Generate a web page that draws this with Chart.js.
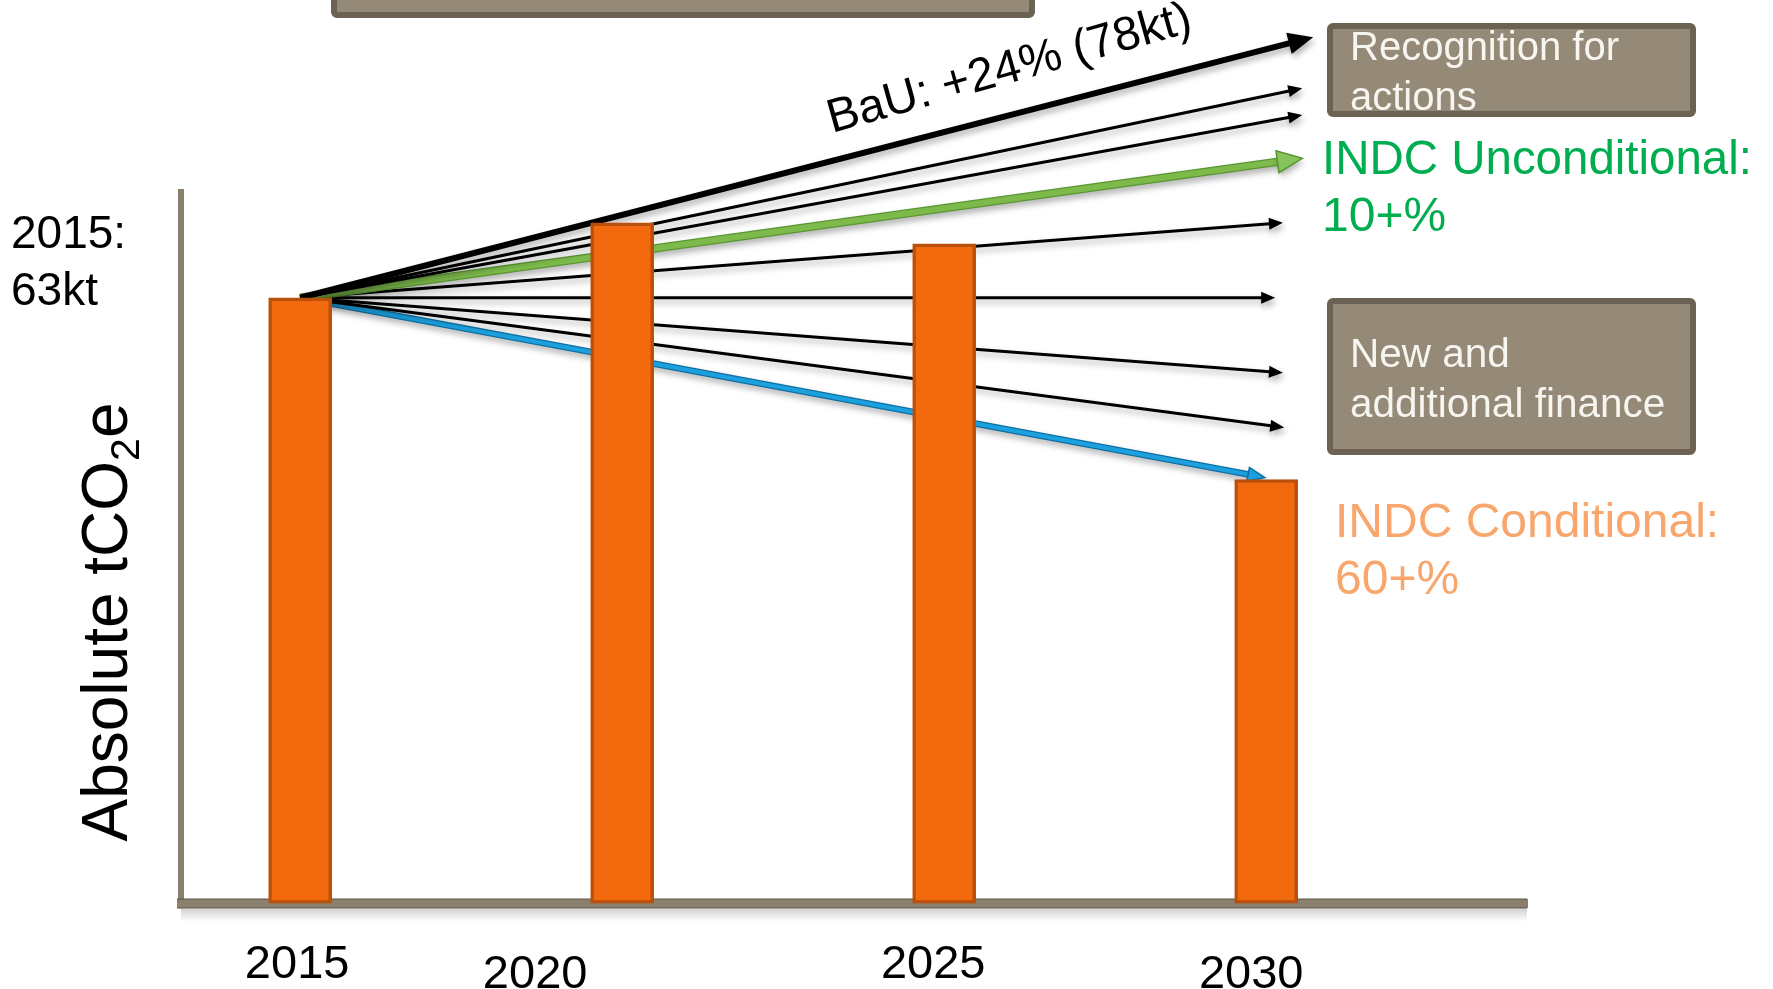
<!DOCTYPE html>
<html><head><meta charset="utf-8">
<script src="https://cdn.jsdelivr.net/npm/chart.js@4.4.1/dist/chart.umd.min.js"></script>
<style>html,body{margin:0;padding:0;background:#fff;overflow:hidden}canvas{display:block}</style>
</head><body>
<canvas id="c" width="1773" height="989"></canvas>
<script>
// ---------------- data ----------------
const years = [2015, 2020, 2025, 2030];
const yearLabels = ['2015', '2020', '2025', '2030'];
const emissions = [63, 70.8, 68.6, 44.1];            // bar heights (schematic, kt scale)
const baseYear = 2015;
const baseValue = 63;
const pathNames = ['BaU', 'Path 2', 'Path 3', 'INDC Unconditional', 'Path 5', 'Path 6', 'Path 7', 'Path 8', 'INDC Conditional'];
const pathEndYears = [2030.73, 2030.56, 2030.56, 2030.56, 2030.26, 2030.14, 2030.26, 2030.28, 2029.98];
const pathEndValues = [90.1, 84.8, 82.0, 77.5, 70.8, 63.0, 55.2, 49.5, 44.3];
const baseLabel = ['2015:', '63kt'];
const bauLabel = 'BaU: +24% (78kt)';
const axisTitleMain = 'Absolute tCO';
const axisTitleSub = '2';
const axisTitleEnd = 'e';
const recognitionLabel = ['Recognition for', 'actions'];
const financeLabel = ['New and', 'additional finance'];
const unconditionalLabel = ['INDC Unconditional:', '10+%'];
const conditionalLabel = ['INDC Conditional:', '60+%'];

// ---------------- styles ----------------
const thin = {color: '#000000', width: 3, headLen: 14, headHalf: 6};
const pathStyles = [
  {color: '#000000', width: 6, headLen: 25, headHalf: 11},
  thin, thin,
  {color: '#7DBA4B', outline: '#5A9632', width: 6, headLen: 25, headHalf: 11, headFill: '#86C35A'},
  thin, thin, thin, thin,
  {color: '#1DA1DE', outline: '#0F6FA3', width: 4, headLen: 17, headHalf: 7}
];
const FONT = '"Liberation Sans", Arial, Helvetica, sans-serif';

const datasets = [{
  type: 'bar',
  label: 'Emissions',
  data: years.map((y, i) => ({x: y, y: emissions[i]})),
  backgroundColor: '#F2690E',
  borderColor: '#B9500C',
  borderWidth: 3.5,
  borderSkipped: false,
  barThickness: 63,
  order: 0
}];
pathNames.forEach((name, i) => {
  const s = pathStyles[i];
  datasets.push({
    type: 'line',
    label: name,
    data: [{x: baseYear, y: baseValue}, {x: pathEndYears[i], y: pathEndValues[i]}],
    borderColor: s.color,
    borderWidth: s.width,
    pointRadius: 0,
    pointHoverRadius: 0,
    fill: false,
    tension: 0,
    clip: false,
    order: 1,
    arrowStyle: s
  });
});

function headGeom(meta) {
  const p0 = meta.data[0], p1 = meta.data[meta.data.length - 1];
  const dx = p1.x - p0.x, dy = p1.y - p0.y;
  const len = Math.hypot(dx, dy) || 1;
  const d = {x: dx / len, y: dy / len};
  const n = {x: -d.y, y: d.x};
  return {p0, p1, d, n};
}

const arrowPlugin = {
  id: 'arrows',
  beforeDatasetDraw(chart, args) {
    const ds = chart.data.datasets[args.index];
    if (!ds.arrowStyle) return;
    const s = ds.arrowStyle;
    const ctx = chart.ctx;
    const {p0, p1, d, n} = headGeom(args.meta);
    ctx.save();
    const b = {x: p1.x - d.x * s.headLen * 0.8, y: p1.y - d.y * s.headLen * 0.8};
    const R = 4000;
    ctx.beginPath();
    ctx.moveTo(b.x + n.x * R, b.y + n.y * R);
    ctx.lineTo(b.x + n.x * R - d.x * R, b.y + n.y * R - d.y * R);
    ctx.lineTo(b.x - n.x * R - d.x * R, b.y - n.y * R - d.y * R);
    ctx.lineTo(b.x - n.x * R, b.y - n.y * R);
    ctx.closePath();
    ctx.clip();
    ctx.shadowColor = 'rgba(0,0,0,0.3)';
    ctx.shadowBlur = 6;
    ctx.shadowOffsetX = 2;
    ctx.shadowOffsetY = 4;
    if (s.outline) {
      ctx.beginPath();
      ctx.moveTo(p0.x, p0.y);
      ctx.lineTo(p1.x, p1.y);
      ctx.strokeStyle = s.outline;
      ctx.lineWidth = s.width + 2.5;
      ctx.stroke();
      ctx.shadowColor = 'transparent';
    }
  },
  afterDatasetDraw(chart, args) {
    const ds = chart.data.datasets[args.index];
    if (!ds.arrowStyle) return;
    const s = ds.arrowStyle;
    const ctx = chart.ctx;
    ctx.restore();
    const {p1, d, n} = headGeom(args.meta);
    const b = {x: p1.x - d.x * s.headLen, y: p1.y - d.y * s.headLen};
    ctx.save();
    ctx.shadowColor = 'rgba(0,0,0,0.3)';
    ctx.shadowBlur = 6;
    ctx.shadowOffsetX = 2;
    ctx.shadowOffsetY = 4;
    ctx.beginPath();
    ctx.moveTo(p1.x, p1.y);
    ctx.lineTo(b.x + n.x * s.headHalf, b.y + n.y * s.headHalf);
    ctx.lineTo(b.x - n.x * s.headHalf, b.y - n.y * s.headHalf);
    ctx.closePath();
    ctx.fillStyle = s.headFill || s.color;
    ctx.fill();
    if (s.outline) {
      ctx.shadowColor = 'transparent';
      ctx.strokeStyle = s.outline;
      ctx.lineWidth = 1.5;
      ctx.stroke();
    }
    ctx.restore();
  }
};

function box(ctx, x1, y1, x2, y2) {
  ctx.save();
  const lw = 6;
  ctx.beginPath();
  if (ctx.roundRect) ctx.roundRect(x1 + lw / 2, y1 + lw / 2, x2 - x1 - lw, y2 - y1 - lw, 3);
  else ctx.rect(x1 + lw / 2, y1 + lw / 2, x2 - x1 - lw, y2 - y1 - lw);
  ctx.fillStyle = '#958977';
  ctx.fill();
  ctx.lineWidth = lw;
  ctx.strokeStyle = '#6B6254';
  ctx.stroke();
  ctx.restore();
}

function lines(ctx, arr, x, y0, lh, font, color, maxW) {
  ctx.save();
  ctx.font = font;
  ctx.fillStyle = color;
  ctx.textAlign = 'left';
  ctx.textBaseline = 'alphabetic';
  arr.forEach((t, i) => {
    if (maxW) ctx.fillText(t, x, y0 + i * lh, maxW);
    else ctx.fillText(t, x, y0 + i * lh);
  });
  ctx.restore();
}

const axisDecor = {
  id: 'axisDecor',
  beforeDatasetsDraw(chart) {
    const ctx = chart.ctx, a = chart.chartArea;
    ctx.save();
    const g = ctx.createLinearGradient(0, a.bottom + 5, 0, a.bottom + 18);
    g.addColorStop(0, 'rgba(0,0,0,0.18)');
    g.addColorStop(1, 'rgba(0,0,0,0)');
    ctx.fillStyle = g;
    ctx.fillRect(a.left, a.bottom + 5, a.right - a.left, 13);
    ctx.strokeStyle = '#5E5649';
    ctx.lineWidth = 1.2;
    ctx.beginPath();
    ctx.moveTo(a.left - 4, a.bottom - 4.5); ctx.lineTo(a.right, a.bottom - 4.5);
    ctx.moveTo(a.left - 4, a.bottom + 4.5); ctx.lineTo(a.right, a.bottom + 4.5);
    ctx.stroke();
    ctx.restore();
  }
};

const annotations = {
  id: 'annotations',
  afterDraw(chart) {
    const ctx = chart.ctx;
    const xs = chart.scales.x;
    // year tick labels (staggered as in the original)
    const tickOffsets = [[-3, 0], [-87, 10], [-11, 0], [-15, 10]];
    ctx.save();
    ctx.font = '47px ' + FONT;
    ctx.fillStyle = '#000';
    ctx.textAlign = 'center';
    ctx.textBaseline = 'alphabetic';
    years.forEach((yr, i) => {
      const px = xs.getPixelForValue(yr);
      ctx.fillText(yearLabels[i], px + tickOffsets[i][0], 978 + tickOffsets[i][1]);
    });
    ctx.restore();

    // boxes
    box(ctx, 331, -30, 1035, 18);
    box(ctx, 1327, 23, 1696, 117);
    box(ctx, 1327, 298, 1696, 455);
    lines(ctx, recognitionLabel, 1350, 60, 50, '40px ' + FONT, '#F7F5F0');
    lines(ctx, financeLabel, 1350, 367, 50, '40.5px ' + FONT, '#F7F5F0');
    lines(ctx, unconditionalLabel, 1322, 174, 57, '48px ' + FONT, '#00AE4F', 430);
    lines(ctx, conditionalLabel, 1335, 537, 57, '48px ' + FONT, '#F9A66C');
    lines(ctx, baseLabel, 11, 248, 57, '46px ' + FONT, '#000');

    // BaU label along the arrow
    ctx.save();
    ctx.translate(832, 133);
    ctx.rotate(-15.7 * Math.PI / 180);
    ctx.font = '47.5px ' + FONT;
    ctx.fillStyle = '#000';
    ctx.textAlign = 'left';
    ctx.fillText(bauLabel, 0, 0);
    ctx.restore();

    // rotated axis title with subscript
    ctx.save();
    ctx.translate(127, 622);
    ctx.rotate(-Math.PI / 2);
    ctx.fillStyle = '#000';
    ctx.textAlign = 'left';
    const big = '64px ' + FONT, small = '41px ' + FONT;
    ctx.font = big; const w1 = ctx.measureText(axisTitleMain).width;
    const w3 = ctx.measureText(axisTitleEnd).width;
    ctx.font = small; const w2 = ctx.measureText(axisTitleSub).width;
    let x = -(w1 + w2 + w3) / 2;
    ctx.font = big; ctx.fillText(axisTitleMain, x, 0); x += w1;
    ctx.font = small; ctx.fillText(axisTitleSub, x, 12); x += w2;
    ctx.font = big; ctx.fillText(axisTitleEnd, x, 0);
    ctx.restore();
  }
};

new Chart(document.getElementById('c'), {
  type: 'bar',
  data: {datasets},
  options: {
    responsive: false,
    devicePixelRatio: 1,
    animation: false,
    events: [],
    layout: {autoPadding: false, padding: {left: 181, right: 246, top: 192, bottom: 85.5}},
    plugins: {legend: {display: false}, tooltip: {enabled: false}, title: {display: false}},
    scales: {
      x: {
        type: 'linear', min: 2013.15, max: 2034.05, offset: false,
        ticks: {display: false},
        grid: {display: false, drawTicks: false},
        border: {display: true, color: '#8B7F6D', width: 9}
      },
      y: {
        type: 'linear', min: 0, max: 74,
        ticks: {display: false},
        grid: {display: false, drawTicks: false},
        border: {display: true, color: '#8B7F6D', width: 6}
      }
    }
  },
  plugins: [arrowPlugin, axisDecor, annotations]
});
</script>
</body></html>
